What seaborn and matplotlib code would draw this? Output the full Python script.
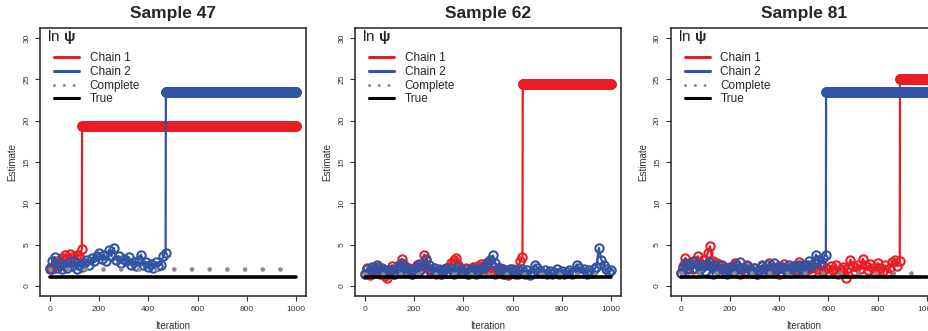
import numpy as np
import pandas as pd
import matplotlib
matplotlib.use("Agg")
import matplotlib.pyplot as plt
from matplotlib.lines import Line2D
import seaborn as sns

# noisy part of each chain, one value every 10 iterations;
# after that the chain sticks at a constant value up to iteration 1000
S47_CHAIN1 = [2.2, 2.0, 2.6, 3.0, 2.5, 3.4, 3.8, 3.3, 3.9, 3.5,
              3.2, 3.8, 3.6, 4.5]
S47_CHAIN2 = [2.0, 3.0, 3.5, 2.2, 2.8, 2.0, 2.6, 2.2, 2.9, 2.4,
              3.0, 2.1, 2.6, 2.3, 2.8, 3.2, 2.6, 3.4, 3.0, 3.6,
              4.0, 3.3, 3.8, 3.0, 4.4, 3.6, 4.6, 3.2, 3.6, 2.8,
              3.3, 3.0, 3.5, 2.6, 2.9, 2.4, 3.2, 3.8, 2.5, 2.9,
              2.3, 2.7, 2.2, 2.9, 2.4, 2.6, 3.6, 4.0]

S62_CHAIN1 = [1.5, 2.2, 1.3, 2.0, 1.6, 2.3, 1.4, 1.9, 1.2, 1.0,
              1.8, 2.4, 1.5, 2.0, 2.6, 3.3, 2.5, 1.8, 2.2, 1.5,
              2.0, 2.6, 1.8, 2.4, 3.8, 3.2, 2.0, 1.6, 2.2, 1.5,
              1.9, 1.4, 2.0, 1.6, 2.3, 2.8, 3.2, 3.4, 2.6, 2.0,
              1.7, 2.2, 1.5, 2.0, 2.3, 1.6, 2.4, 2.7, 2.0, 2.8,
              2.2, 1.7, 2.3, 1.5, 1.9, 2.2, 1.4, 1.8, 1.3, 1.6,
              2.0, 1.5, 1.9, 3.0, 3.5]
S62_CHAIN2 = [1.5, 2.0, 1.7, 2.3, 2.0, 2.6, 1.8, 2.2, 1.4, 1.9,
              1.6, 2.1, 1.5, 2.0, 2.4, 2.8, 2.2, 1.7, 2.0, 1.5,
              1.9, 2.3, 2.7, 2.0, 2.6, 3.3, 2.6, 1.9, 2.2, 1.6,
              2.0, 1.5, 1.9, 2.2, 1.7, 2.1, 1.5, 1.9, 2.3, 1.8,
              1.6, 2.0, 1.4, 1.8, 2.1, 1.5, 1.9, 2.2, 1.7, 2.4,
              2.9, 3.2, 3.7, 2.8, 2.2, 1.7, 2.0, 1.5, 1.8, 2.1,
              1.6, 1.9, 1.4, 1.8, 2.0, 1.5, 1.9, 1.3, 1.7, 2.6,
              2.2, 1.8, 1.6, 1.9, 1.5, 1.8, 1.4, 1.7, 2.0, 1.5,
              1.8, 1.4, 1.7, 1.9, 1.5, 1.8, 2.6, 2.2, 1.7, 2.0,
              1.5, 1.9, 1.6, 2.0, 2.3, 4.6, 3.2, 2.6, 2.0, 1.7,
              1.9]

S81_CHAIN1 = [1.6, 2.4, 3.4, 2.2, 2.8, 2.0, 3.0, 3.6, 2.6, 3.2,
              2.5, 4.0, 4.8, 3.0, 2.4, 2.8, 2.0, 2.5, 1.8, 2.2,
              1.6, 2.3, 2.8, 2.0, 1.5, 2.2, 1.8, 2.6, 2.0, 1.7,
              2.2, 1.5, 1.9, 2.4, 1.6, 2.0, 2.8, 2.2, 1.7, 2.0,
              1.5, 2.3, 2.7, 1.9, 2.2, 1.6, 2.4, 2.0, 2.9, 2.2,
              1.8, 2.5, 2.0, 1.6, 2.3, 2.7, 2.0, 2.4, 1.8, 2.2,
              1.6, 2.4, 1.9, 2.6, 1.5, 2.0, 2.3, 1.0, 2.2, 3.2,
              2.4, 1.8, 2.6, 2.0, 3.3, 2.5, 1.9, 2.7, 2.2, 1.7,
              2.8, 2.2, 1.8, 2.5, 1.6, 2.2, 2.9, 3.2, 2.4, 3.0]
S81_CHAIN2 = [1.6, 2.2, 2.8, 2.0, 2.6, 3.0, 2.2, 2.7, 2.0, 2.5,
              1.8, 2.6, 2.9, 1.4, 2.4, 2.0, 2.6, 1.6, 2.2, 1.5,
              2.3, 1.8, 2.6, 2.0, 2.9, 2.2, 1.7, 2.4, 2.0, 1.6,
              2.2, 1.4, 1.9, 2.5, 2.0, 2.6, 1.7, 2.2, 2.8, 2.0,
              2.4, 1.6, 2.2, 1.9, 2.6, 2.0, 2.4, 1.8, 2.5, 2.0,
              2.6, 2.2, 3.0, 2.4, 2.8, 3.8, 3.2, 2.7, 3.4, 3.8]

SAMPLES = ["Sample 47", "Sample 62", "Sample 81"]
CHAIN1 = [S47_CHAIN1, S62_CHAIN1, S81_CHAIN1]
CHAIN2 = [S47_CHAIN2, S62_CHAIN2, S81_CHAIN2]
STUCK1 = [19.4, 24.4, 25.1]     # value where chain 1 gets stuck
STUCK2 = [23.5, None, 23.5]     # chain 2 (sample 62 never jumps)
COMPLETE = [2.05, 1.4, 1.6]
TRUE_VAL = [1.1, 1.1, 1.1]
STEP = 10
N_ITER = 1000

RED = "#EC1C24"
BLUE = "#3153A4"
GREY = "#8C8C8C"


def chain_frame(noise, stuck):
    x = list(np.arange(len(noise)) * STEP)
    y = list(noise)
    if stuck is not None:
        rest = np.arange(x[-1] + 1, N_ITER + 1)
        x += list(rest)
        y += [stuck] * len(rest)
    return pd.DataFrame({"iter": x, "est": y})


sns.set_style("ticks")
plt.rcParams["font.family"] = ["Liberation Sans", "DejaVu Sans"]
plt.rcParams["mathtext.fontset"] = "custom"
plt.rcParams["mathtext.bf"] = "Liberation Sans:bold"

fig = plt.figure(figsize=(9.29, 3.31), dpi=100)
lefts = [40 / 929, 355 / 929, 670.7 / 929]

for i, title in enumerate(SAMPLES):
    ax = fig.add_axes([lefts[i], 0.106, 266 / 929, 0.809])
    for noise, stuck, col in [(CHAIN1[i], STUCK1[i], RED),
                              (CHAIN2[i], STUCK2[i], BLUE)]:
        df = chain_frame(noise, stuck)
        sns.lineplot(data=df, x="iter", y="est", ax=ax, color=col, lw=1.6,
                     estimator=None, sort=False, marker="o", markersize=6.0,
                     markerfacecolor="none", markeredgecolor=col,
                     markeredgewidth=1.5)
    ax.plot([0, N_ITER], [COMPLETE[i]] * 2, color=GREY, lw=3.4,
            linestyle=(0, (0.01, 12.7 / 3.4)), dash_capstyle="round")
    ax.plot([0, N_ITER], [TRUE_VAL[i]] * 2, color="black", lw=2.6)

    ax.set_xlim(-40, 1040)
    ax.set_ylim(-1.2, 31.2)
    ax.set_xticks([0, 200, 400, 600, 800, 1000])
    ax.set_yticks([0, 5, 10, 15, 20, 25, 30])
    ax.tick_params(labelsize=6, length=3.5, width=0.8, colors="#333333")
    ax.tick_params(axis="y", labelrotation=90)
    for lbl in ax.get_yticklabels():
        lbl.set_va("center")
    for sp in ax.spines.values():
        sp.set_linewidth(1.1)
        sp.set_color("#222222")
    ax.set_xlabel("Iteration", fontsize=7, labelpad=6, color="#333333")
    ax.set_ylabel("Estimate", fontsize=7, labelpad=4, color="#333333")
    ax.set_title(title, fontsize=12.5, fontweight="bold", pad=7)

    ax.text(0.027, 0.999, r"ln $\mathbf{\psi}$", transform=ax.transAxes,
            fontsize=11, ha="left", va="top")
    handles = [
        Line2D([], [], color=RED, lw=2.2),
        Line2D([], [], color=BLUE, lw=2.2),
        Line2D([], [], color=GREY, lw=2.2, linestyle=(0, (0.01, 3.2)),
               dash_capstyle="round"),
        Line2D([], [], color="black", lw=2.2),
    ]
    ax.legend(handles, ["Chain 1", "Chain 2", "Complete", "True"],
              loc="upper left", bbox_to_anchor=(0.045, 0.919), frameon=False,
              fontsize=8.5, handlelength=2.1, handletextpad=0.9,
              labelspacing=0.15, borderaxespad=0, borderpad=0.2)

fig.savefig("out.png", dpi=100)
